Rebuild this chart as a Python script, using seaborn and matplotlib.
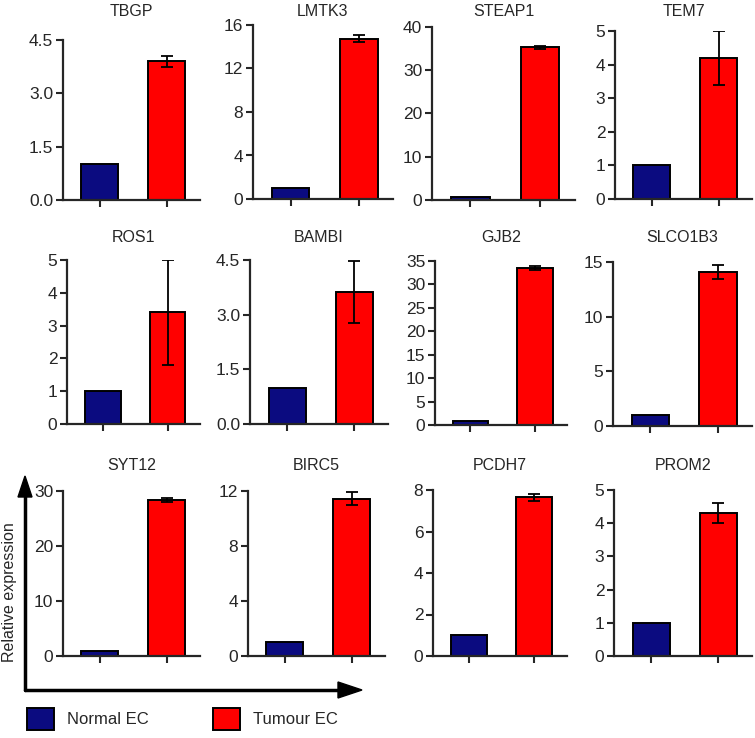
import numpy as np
import pandas as pd
import seaborn as sns
import matplotlib.pyplot as plt
from matplotlib.patches import Rectangle

# Values
genes = ['TBGP', 'LMTK3', 'STEAP1', 'TEM7',
         'ROS1', 'BAMBI', 'GJB2', 'SLCO1B3',
         'SYT12', 'BIRC5', 'PCDH7', 'PROM2']
normal_ec = [1.0, 1.0, 0.8, 1.0, 1.0, 1.0, 0.8, 1.0, 0.9, 1.0, 1.0, 1.0]
tumour_ec = [3.9, 14.75, 35.3, 4.2, 3.4, 3.62, 33.5, 14.1, 28.4, 11.45, 7.65, 4.3]
tumour_err = [0.15, 0.3, 0.35, 0.8, 1.6, 0.84, 0.45, 0.65, 0.4, 0.45, 0.17, 0.3]
y_max = [4.5, 16, 40, 5, 5, 4.5, 35, 15, 30, 12, 8, 5]
y_ticks = [[0.0, 1.5, 3.0, 4.5], [0, 4, 8, 12, 16], [0, 10, 20, 30, 40], [0, 1, 2, 3, 4, 5],
           [0, 1, 2, 3, 4, 5], [0.0, 1.5, 3.0, 4.5], [0, 5, 10, 15, 20, 25, 30, 35], [0, 5, 10, 15],
           [0, 10, 20, 30], [0, 4, 8, 12], [0, 2, 4, 6, 8], [0, 1, 2, 3, 4, 5]]
groups = ['Normal EC', 'Tumour EC']
colors = {'Normal EC': '#0b0b80', 'Tumour EC': '#ff0000'}

# panel boxes in pixels: x0, x1, y_top, y_bottom
boxes = [(63, 200, 40, 200), (253, 393, 25, 199), (432, 575, 27, 200), (615, 752, 31, 199),
         (67, 200, 260, 424), (250, 388, 260, 424), (435, 567, 261, 425), (613, 752, 262, 426),
         (63, 200, 491, 656), (248, 385, 491, 656), (433, 567, 490, 656), (614, 752, 490, 656)]
title_y = [12, 237, 466]

sns.set_style('ticks')
plt.rcParams['font.family'] = ['Liberation Sans', 'DejaVu Sans']

W, H = 755, 738
fig = plt.figure(figsize=(W / 100, H / 100), dpi=100)

for i, gene in enumerate(genes):
    x0, x1, yt, yb = boxes[i]
    ax = fig.add_axes([x0 / W, 1 - yb / H, (x1 - x0) / W, (yb - yt) / H])
    df = pd.DataFrame({'group': groups, 'value': [normal_ec[i], tumour_ec[i]]})
    sns.barplot(data=df, x='group', y='value', hue='group', palette=colors, saturation=1,
                width=0.55, edgecolor='black', linewidth=1.4, legend=False, ax=ax)
    ax.errorbar([1], [tumour_ec[i]], yerr=[tumour_err[i]], fmt='none',
                ecolor='black', elinewidth=1.3, capsize=4, capthick=1.3)
    ax.set_xlim(-0.55, 1.5)
    ax.set_ylim(0, y_max[i])
    ax.set_yticks(y_ticks[i])
    if isinstance(y_ticks[i][1], float):
        ax.set_yticklabels([f'{t:.1f}' for t in y_ticks[i]])
    ax.set_xticks([0, 1])
    ax.set_xticklabels(['', ''])
    ax.set_xlabel('')
    ax.set_ylabel('')
    sns.despine(ax=ax)
    for s in ['left', 'bottom']:
        ax.spines[s].set_linewidth(1.6)
    ax.tick_params(axis='both', width=1.5, length=5, labelsize=12.5, pad=2)
    fig.text((x0 + x1) / 2 / W, 1 - title_y[i // 4] / H, gene,
             ha='center', va='center', fontsize=11.5)

# axis arrows around the bottom-left panel
fig.add_artist(plt.Line2D([25 / W, 25 / W], [1 - 690 / H, 1 - 495 / H], color='black', lw=2.5))
fig.add_artist(plt.Line2D([25 / W, 340 / W], [1 - 690 / H, 1 - 690 / H], color='black', lw=2.5))
fig.add_artist(plt.Polygon([[18 / W, 1 - 497 / H], [32 / W, 1 - 497 / H], [25 / W, 1 - 476 / H]],
                           closed=True, color='black', transform=fig.transFigure))
fig.add_artist(plt.Polygon([[338 / W, 1 - 682 / H], [338 / W, 1 - 698 / H], [362 / W, 1 - 690 / H]],
                           closed=True, color='black', transform=fig.transFigure))
fig.text(10 / W, 1 - 592 / H, 'Relative expression', rotation=90,
         ha='center', va='center', fontsize=11.5)

# legend
for xs, label in [(27, 'Normal EC'), (213, 'Tumour EC')]:
    fig.add_artist(Rectangle((xs / W, 1 - 730 / H), 27 / W, 22 / H, facecolor=colors[label],
                             edgecolor='black', lw=1.4, transform=fig.transFigure))
    fig.text((xs + 40) / W, 1 - 719 / H, label, ha='left', va='center', fontsize=12)

fig.savefig('out.png', dpi=100)
